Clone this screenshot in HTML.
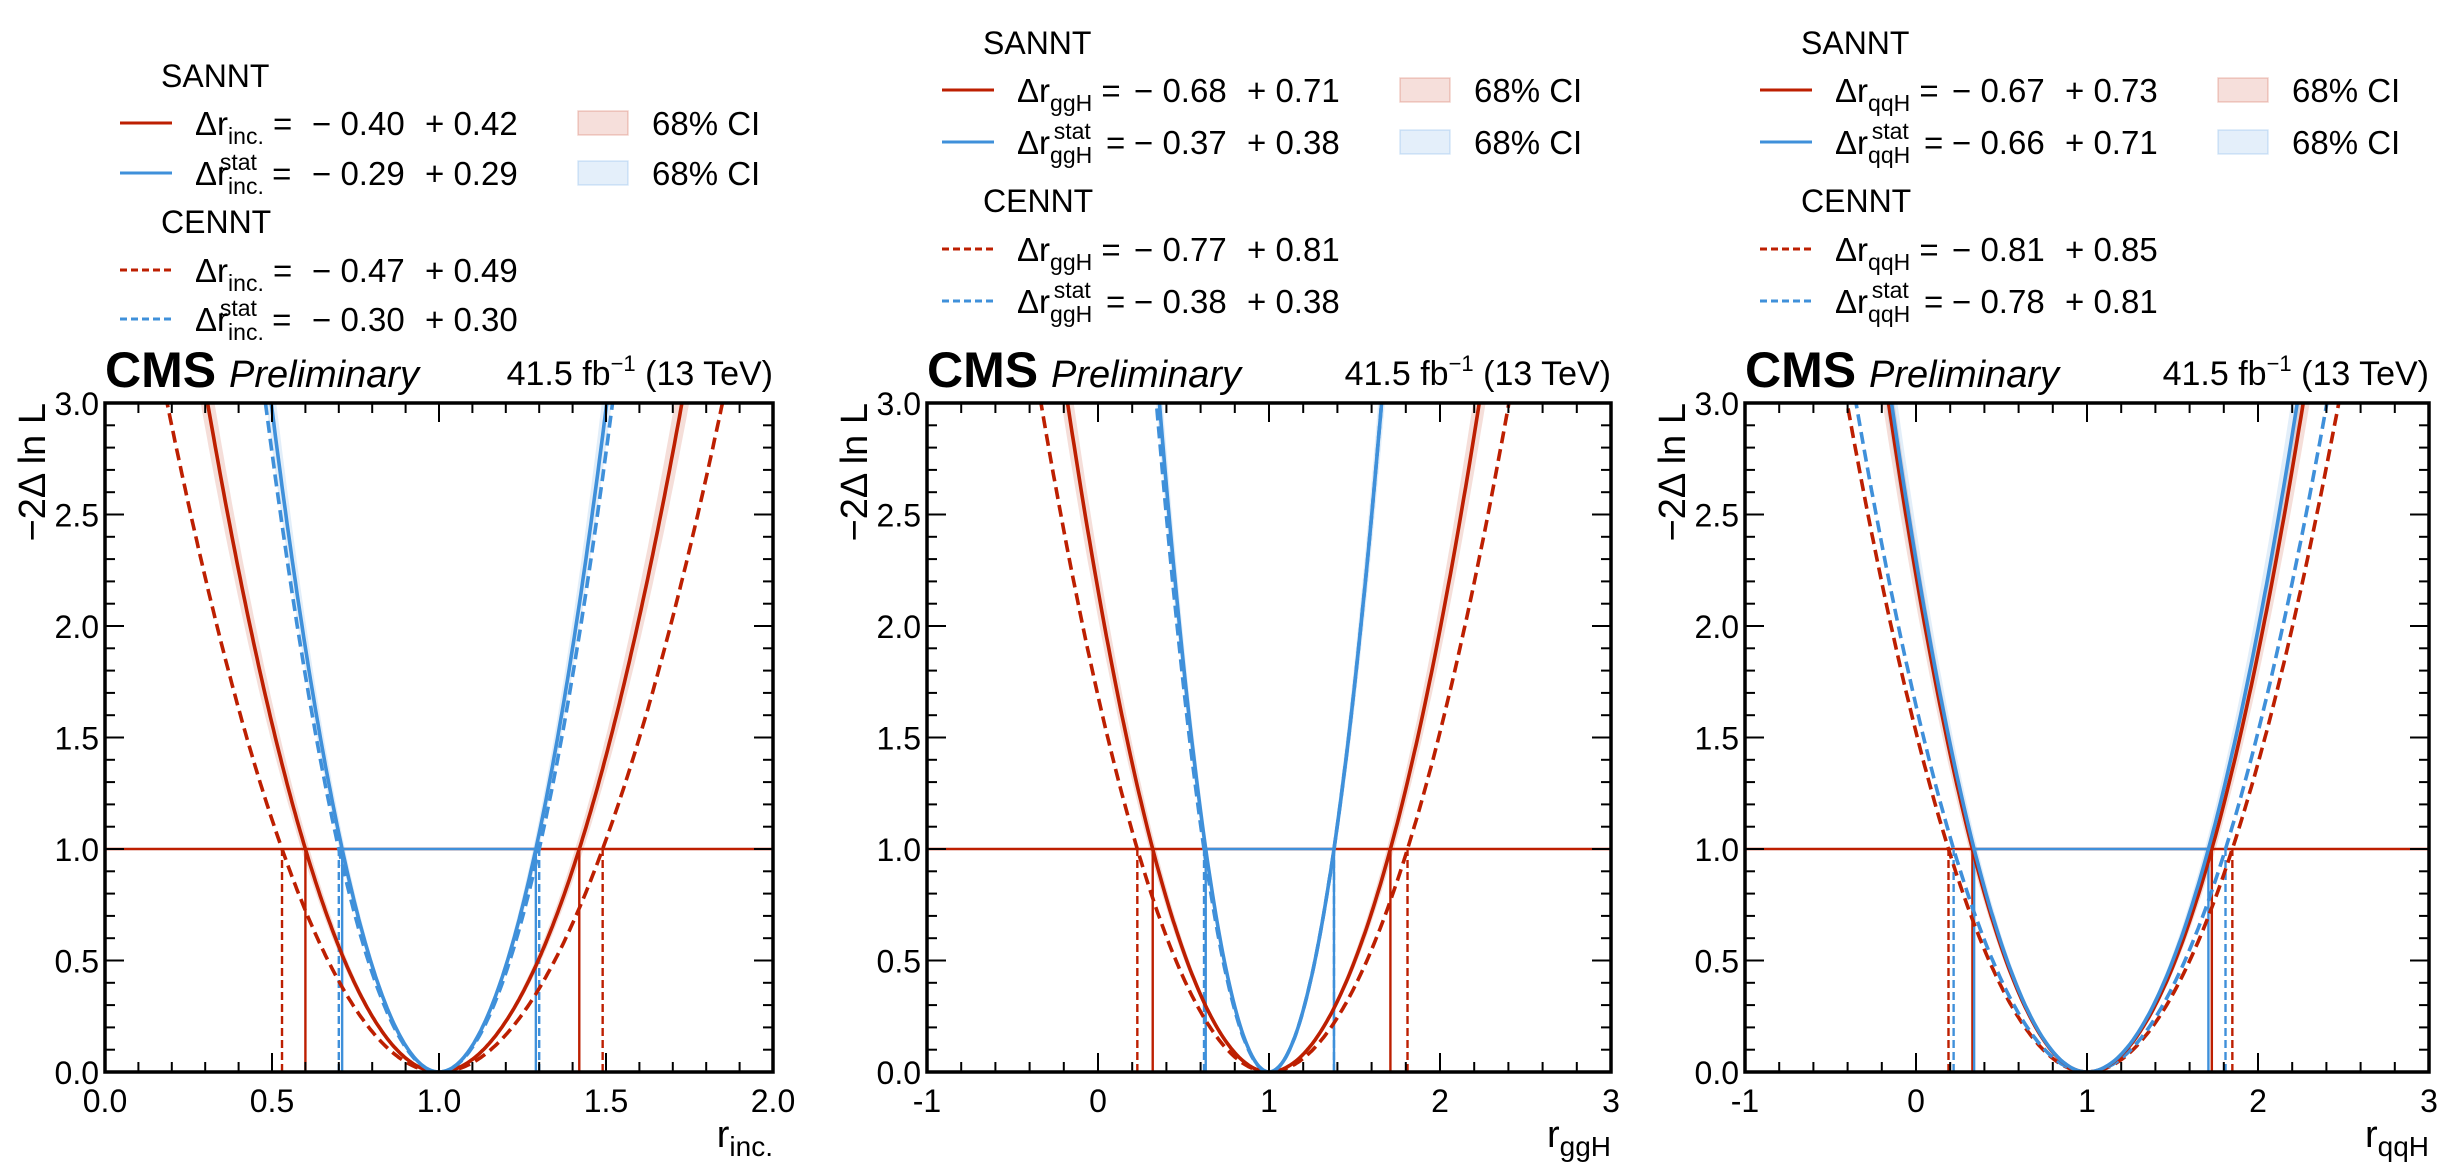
<!DOCTYPE html>
<html><head><meta charset="utf-8">
<style>
html,body{margin:0;padding:0;background:#fff;}
svg{display:block;font-family:"Liberation Sans",Arial,sans-serif;}
</style></head>
<body>
<svg id="chart" width="2450" height="1168" viewBox="0 0 2450 1168" xmlns="http://www.w3.org/2000/svg"></svg>
<script>
// ---- data ----
const panelNames = ["inc.", "ggH", "qqH"];
const xMins = [0, -1, -1];
const xMaxs = [2, 3, 3];
const xMajorStep = [0.5, 1, 1];
const xMinorStep = [0.1, 0.2, 0.2];
const xTickLabels = [["0.0","0.5","1.0","1.5","2.0"], ["-1","0","1","2","3"], ["-1","0","1","2","3"]];
const yTickLabels = ["0.0","0.5","1.0","1.5","2.0","2.5","3.0"];
const bestFit = [1.0, 1.0, 1.0];
const sannLo = [0.40, 0.68, 0.67];
const sannHi = [0.42, 0.71, 0.73];
const sannStatLo = [0.29, 0.37, 0.66];
const sannStatHi = [0.29, 0.38, 0.71];
const cennLo = [0.47, 0.77, 0.81];
const cennHi = [0.49, 0.81, 0.85];
const cennStatLo = [0.30, 0.38, 0.78];
const cennStatHi = [0.30, 0.38, 0.81];
const bandFrac = [0.03, 0.03, 0.03];

// ---- layout ----
const axLeft = [105, 927, 1745];
const axWidths = [668, 684, 684];
const yTop = 403, yBot = 1072, yMax = 3;
const RED = "#bd1f01", BLUE = "#3f90da";
const NS = "http://www.w3.org/2000/svg";
const svg = document.getElementById("chart");

function mk(tag, attrs, parent, text) {
  const e = document.createElementNS(NS, tag);
  for (const k in attrs) e.setAttribute(k, attrs[k]);
  if (text !== undefined) e.textContent = text;
  (parent || svg).appendChild(e);
  return e;
}

const defs = mk("defs", {});

for (let p = 0; p < 3; p++) {
  const L = axLeft[p], W = axWidths[p], R = L + W;
  const xs = v => L + (v - xMins[p]) / (xMaxs[p] - xMins[p]) * W;
  const ys = v => yBot - v / yMax * (yBot - yTop);
  const g = mk("g", {});
  
  

  const cp = mk("clipPath", {id: "clip" + p}, defs);
  mk("rect", {x: L, y: yTop, width: W, height: yBot - yTop}, cp);
  const plot = mk("g", {"clip-path": "url(#clip" + p + ")"}, g);

  const nll = (x, lo, hi, c) => x < c ? Math.pow((c - x) / lo, 2) : Math.pow((x - c) / hi, 2);
  function curvePts(lo, hi, c) {
    const pts = [];
    const n = 400;
    for (let i = 0; i <= n; i++) {
      const x = xMins[p] + (xMaxs[p] - xMins[p]) * i / n;
      const y = nll(x, lo, hi, c);
      if (y > 3.3) continue;
      pts.push([xs(x), ys(y)]);
    }
    return pts;
  }
  function drawBand(lo, hi, c, color, name) {
    const f = bandFrac[p];
    const a = curvePts(lo * (1 - f), hi * (1 - f), c);
    const b = curvePts(lo * (1 + f), hi * (1 + f), c).reverse();
    const d = "M" + a.concat(b).map(q => q[0].toFixed(1) + "," + q[1].toFixed(1)).join("L") + "Z";
    const e = mk("path", {d: d, fill: color, "fill-opacity": 0.15, stroke: "none"}, plot);
    
    
  }
  function drawCurve(lo, hi, c, color, dash, name) {
    const pts = curvePts(lo, hi, c);
    const d = "M" + pts.map(q => q[0].toFixed(1) + "," + q[1].toFixed(1)).join("L");
    const e = mk("path", {d: d, fill: "none", stroke: color, "stroke-width": 3.6, "stroke-dasharray": dash ? "12,6" : "none"}, plot);
    
    
  }
  function vline(v, color, dash, name) {
    const e = mk("line", {x1: xs(v), x2: xs(v), y1: ys(0), y2: ys(1), stroke: color, "stroke-width": 2.4, "stroke-dasharray": dash ? "8,4" : "none"}, plot);
    
    
  }
  const c = bestFit[p];
  drawBand(sannLo[p], sannHi[p], c, RED, "sannt-total-band");
  drawBand(sannStatLo[p], sannStatHi[p], c, BLUE, "sannt-stat-band");
  const h1 = mk("line", {x1: L, x2: R, y1: ys(1), y2: ys(1), stroke: RED, "stroke-width": 2.5}, plot);
  
  
  const h2 = mk("line", {x1: xs(c - sannStatLo[p]), x2: xs(c + sannStatHi[p]), y1: ys(1), y2: ys(1), stroke: BLUE, "stroke-width": 2.5}, plot);
  
  
  vline(c - cennLo[p], RED, true, "cennt-lo-marker");
  vline(c + cennHi[p], RED, true, "cennt-hi-marker");
  vline(c - cennStatLo[p], BLUE, true, "cennt-stat-lo-marker");
  vline(c + cennStatHi[p], BLUE, true, "cennt-stat-hi-marker");
  vline(c - sannLo[p], RED, false, "sannt-lo-marker");
  vline(c + sannHi[p], RED, false, "sannt-hi-marker");
  vline(c - sannStatLo[p], BLUE, false, "sannt-stat-lo-marker");
  vline(c + sannStatHi[p], BLUE, false, "sannt-stat-hi-marker");
  drawCurve(cennLo[p], cennHi[p], c, RED, true, "cennt-total-curve");
  drawCurve(cennStatLo[p], cennStatHi[p], c, BLUE, true, "cennt-stat-curve");
  drawCurve(sannLo[p], sannHi[p], c, RED, false, "sannt-total-curve");
  drawCurve(sannStatLo[p], sannStatHi[p], c, BLUE, false, "sannt-stat-curve");

  // ticks
  const tk = mk("g", {stroke: "#000", "stroke-width": 2}, g);
  const nMinX = Math.round((xMaxs[p] - xMins[p]) / xMinorStep[p]);
  const ratio = Math.round(xMajorStep[p] / xMinorStep[p]);
  for (let i = 0; i <= nMinX; i++) {
    const v = xMins[p] + i * xMinorStep[p];
    const len = i % ratio === 0 ? 19 : 10;
    mk("line", {x1: xs(v), x2: xs(v), y1: yBot, y2: yBot - len}, tk);
    mk("line", {x1: xs(v), x2: xs(v), y1: yTop, y2: yTop + len}, tk);
  }
  for (let i = 0; i <= 30; i++) {
    const v = i * 0.1;
    const len = i % 5 === 0 ? 19 : 10;
    mk("line", {x1: L, x2: L + len, y1: ys(v), y2: ys(v)}, tk);
    mk("line", {x1: R, x2: R - len, y1: ys(v), y2: ys(v)}, tk);
  }
  const fr = mk("rect", {x: L, y: yTop, width: W, height: yBot - yTop, fill: "none", stroke: "#000", "stroke-width": 3.5}, g);
  
  

  xTickLabels[p].forEach((t, i) => {
    const e = mk("text", {x: xs(xMins[p] + i * xMajorStep[p]), y: yBot + 40, "font-size": 32, "text-anchor": "middle"}, g, t);
    
    
  });
  yTickLabels.forEach((t, i) => {
    const e = mk("text", {x: L - 6, y: ys(i * 0.5) + 12, "font-size": 32, "text-anchor": "end"}, g, t);
    
    
  });
  const xt = mk("text", {x: R, y: yBot + 75, "font-size": 38, "text-anchor": "end"}, g);
  
  
  mk("tspan", {}, xt, "r");
  mk("tspan", {"font-size": 28, dy: 9}, xt, panelNames[p]);
  const ytt = mk("text", {x: 0, y: 0, "font-size": 38, "text-anchor": "end", transform: "translate(" + (L - 60) + "," + yTop + ") rotate(-90)"}, g, "\u22122\u0394 ln L");
  
  
  const cms = mk("text", {x: L, y: yTop - 16, "font-size": 50, "font-weight": "bold"}, g, "CMS");
  
  
  const pre = mk("text", {x: L + 124, y: yTop - 16, "font-size": 38, "font-style": "italic"}, g, "Preliminary");
  
  
  const lumi = mk("text", {x: R, y: yTop - 18, "font-size": 34, "text-anchor": "end"}, g);
  
  
  mk("tspan", {}, lumi, "41.5 fb");
  mk("tspan", {"font-size": 22, dy: -14}, lumi, "\u22121");
  mk("tspan", {dy: 14}, lumi, "  (13 TeV)");

  // legend
  const rowsY = p === 0 ? [75, 123, 173, 221, 270, 319] : [42, 90, 142, 200, 249, 301];
  const lg = mk("g", {}, g);
  
  
  const head1 = mk("text", {x: L + 56, y: rowsY[0] + 12, "font-size": 32}, lg, "SANNT");
  
  
  const head2 = mk("text", {x: L + 56, y: rowsY[3] + 12, "font-size": 32}, lg, "CENNT");
  
  
  const entries = [
    [rowsY[1], RED, false, false, sannLo[p], sannHi[p]],
    [rowsY[2], BLUE, false, true, sannStatLo[p], sannStatHi[p]],
    [rowsY[4], RED, true, false, cennLo[p], cennHi[p]],
    [rowsY[5], BLUE, true, true, cennStatLo[p], cennStatHi[p]]
  ];
  entries.forEach(en => {
    const [y, col, dash, stat, lo, hi] = en;
    const eg = mk("g", {}, lg);
    
    
    mk("line", {x1: L + 15, x2: L + 67, y1: y, y2: y, stroke: col, "stroke-width": 3, "stroke-dasharray": dash ? "7,4" : "none"}, eg);
    const t = mk("text", {x: L + 90, y: y + 12, "font-size": 33}, eg);
    mk("tspan", {}, t, "\u0394r");
    mk("tspan", {"font-size": 23, dy: 9}, t, panelNames[p]);
    if (stat) {
      const sw = panelNames[p].length * 11.5 + (p === 0 ? -2 : 4);
      mk("tspan", {"font-size": 23, dx: -sw, dy: -24}, t, "stat");
      mk("tspan", {dy: 15, dx: p === 0 ? 6 : 6}, t, " =");
    } else {
      mk("tspan", {dy: -9}, t, " =");
    }
    mk("text", {x: L + 207, y: y + 12, "font-size": 33}, eg, "\u2212 " + lo.toFixed(2));
    mk("text", {x: L + 320, y: y + 12, "font-size": 33}, eg, "+ " + hi.toFixed(2));
  });
  [[rowsY[1], RED], [rowsY[2], BLUE]].forEach(q => {
    const bg = mk("g", {}, lg);
    
    
    mk("rect", {x: L + 473, y: q[0] - 12, width: 50, height: 24, fill: q[1], "fill-opacity": 0.14, stroke: q[1], "stroke-opacity": 0.2, "stroke-width": 1.5}, bg);
    mk("text", {x: L + 547, y: q[0] + 12, "font-size": 33}, bg, "68% CI");
  });
}
</script>
</body></html>
